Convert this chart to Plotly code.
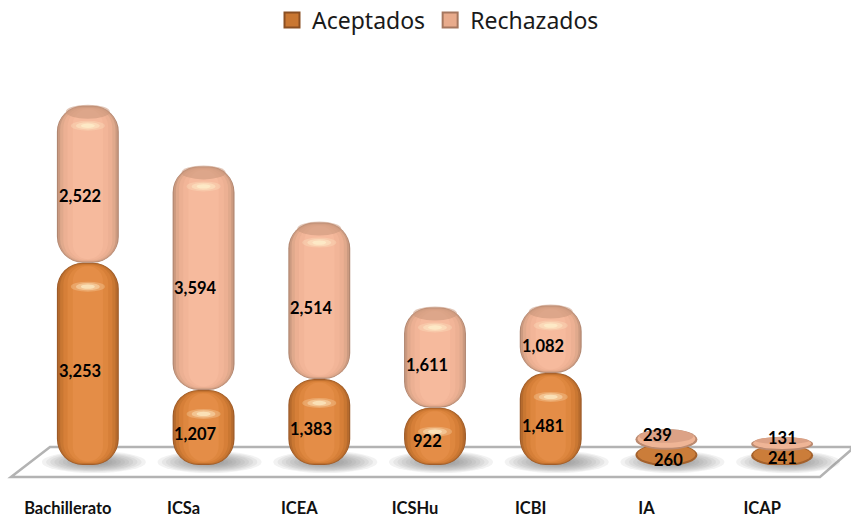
import plotly.graph_objects as go

categories = ["Bachillerato", "ICSa", "ICEA", "ICSHu", "ICBI", "IA", "ICAP"]
aceptados = [3253, 1207, 1383, 922, 1481, 260, 241]
rechazados = [2522, 3594, 2514, 1611, 1082, 239, 131]

# Plot-area geometry, in pixels of the 851x517 page
W, H = 851, 517
L, R, T, B = 30, 11, 0, 52
PH = H - T - B
PW = W - L - R
UNIT = 1 / 0.0622         # data units per pixel
YMAX = PH * UNIT
BAR = 0.535
STEP = PW / len(categories)
SMALL_PX = 40             # segments shorter than this are drawn as discs


def px(p):
    return (p - L) / PW


def py(p):
    return (H - B - p) / PH


acc_ramp = ["#9c5a28", "#b56a2d", "#c97732", "#d67f38", "#de873f", "#e48d47"]
rej_ramp = ["#b08670", "#cb9a80", "#e0a98c", "#ecb093", "#f2b598", "#f6ba9d"]

fig = go.Figure()

for name, vals, bases, ramp in [
    ("Aceptados", aceptados, [0] * len(aceptados), acc_ramp),
    ("Rechazados", rechazados, aceptados, rej_ramp),
]:
    for k, col in enumerate(ramp):
        inset = [min(k * 0.7 * UNIT, v * 0.04 * k) for v in vals]
        width = BAR * (1 - 0.0165 * k * k - 0.02 * k)
        widths = [width if v / UNIT > SMALL_PX else width * 0.6 for v in vals]
        fig.add_trace(go.Bar(
            x=categories,
            y=[v - 2 * d for v, d in zip(vals, inset)],
            base=[b + d for b, d in zip(bases, inset)],
            width=widths,
            showlegend=False,
            hoverinfo="skip",
            marker=dict(color=col, line_width=0, cornerradius=max(26 - 2 * k, 8)),
        ))

# Legend entries
for name, col, edge in [("Aceptados", "#c97732", "#8a4f22"), ("Rechazados", "#e8ab8c", "#a5775f")]:
    fig.add_trace(go.Scatter(
        x=[None], y=[None], mode="markers", name=name,
        marker=dict(symbol="square", size=15, color=col, line=dict(color=edge, width=2)),
    ))

shapes = [dict(
    type="path", xref="paper", yref="paper", layer="below",
    path=f"M {px(11)} {py(477)} L {px(50)} {py(447)} L {px(851)} {py(447)} "
         f"L {px(851)} {py(450)} L {px(820)} {py(477)} Z",
    fillcolor="white", line=dict(color="#b3b3b3", width=2.5),
)]

# Soft shadows on the floor, one stack of ellipses per bar
for i in range(len(categories)):
    for s in range(11):
        f = 1 - s * 0.08
        half_w, half_h = 52 * f, 11 * f
        cx = L + (i + 0.5) * STEP + 6
        cy = 462
        shapes.append(dict(
            type="circle", xref="paper", yref="paper", layer="below",
            x0=px(cx - half_w), x1=px(cx + half_w),
            y0=py(cy + half_h), y1=py(cy - half_h),
            fillcolor="#6a6a6a", opacity=0.09, line_width=0,
        ))


def disc(i, y0, y1, half_w, color, opacity=1.0):
    return dict(
        type="circle", xref="x", yref="y", layer="above",
        x0=i - half_w / STEP, x1=i + half_w / STEP, y0=y0, y1=y1,
        fillcolor=color, opacity=opacity, line_width=0,
    )


# Short segments: squat discs placed from the data
for vals, bases, edge, body, face in [
    (aceptados, [0] * len(aceptados), "#a3602b", "#cb7d3a", None),
    (rechazados, aceptados, "#bb8a70", "#efb596", "#d9a084"),
]:
    for i, (v, b) in enumerate(zip(vals, bases)):
        if v / UNIT > SMALL_PX:
            continue
        y0, y1 = b - 1 * UNIT, b + v + 5 * UNIT
        shapes.append(disc(i, y0, y1, 31, edge))
        shapes.append(disc(i, y0 + 2 * UNIT, y1 - 0.5 * UNIT, 29, body))
        if face:
            shapes.append(disc(i, y0 + 7 * UNIT, y1 - 0.5 * UNIT, 27, face, 0.9))

# Top caps and specular highlights, placed from the data
for tops, heights, is_top in [
    ([a + r for a, r in zip(aceptados, rechazados)], rechazados, True),
    (aceptados, aceptados, False),
]:
    for i, (top, h) in enumerate(zip(tops, heights)):
        if h / UNIT <= SMALL_PX:
            continue
        if is_top:
            shapes.append(disc(i, top - 13 * UNIT, top + 1 * UNIT, 22, "#c9957a", 0.55))
        off = 20 if is_top else 24
        for hw, hh, op in [(17, 5, 0.25), (12, 3.6, 0.4), (7, 2.2, 0.6)]:
            shapes.append(disc(i, top - (off + hh) * UNIT, top - (off - hh) * UNIT, hw, "#fff3cf", op))

# Data labels
label_shift = {
    ("IA", "Rechazados"): (-9, 6),
    ("IA", "Aceptados"): (2, -3),
    ("ICAP", "Rechazados"): (0, 8),
    ("ICAP", "Aceptados"): (0, 0),
    ("Bachillerato", "Rechazados"): (-8, -12),
    ("ICSa", "Rechazados"): (-8, -10),
    ("ICSHu", "Aceptados"): (-8, -5),
}
annotations = []
for name, vals, bases in [
    ("Aceptados", aceptados, [0] * len(aceptados)),
    ("Rechazados", rechazados, aceptados),
]:
    for c, v, b in zip(categories, vals, bases):
        xs, ys = label_shift.get((c, name), (-8, -7))
        annotations.append(dict(
            x=c, y=b + v / 2, text=f"{v:,}", showarrow=False,
            xshift=xs, yshift=ys,
            font=dict(family="Lato", size=16.5, color="black", weight="bold"),
        ))

fig.update_layout(
    width=W, height=H,
    margin=dict(l=L, r=R, t=T, b=B, autoexpand=False),
    paper_bgcolor="white", plot_bgcolor="rgba(0,0,0,0)",
    barmode="overlay",
    shapes=shapes,
    annotations=annotations,
    showlegend=True,
    legend=dict(
        orientation="h", x=px(438), xref="paper", xanchor="center",
        y=py(20), yanchor="middle", yref="paper",
        font=dict(family="Noto Sans", size=23, color="#1a1a1a"),
        traceorder="normal", bgcolor="rgba(0,0,0,0)",
    ),
    xaxis=dict(
        type="category", categoryorder="array", categoryarray=categories,
        range=[-0.5, len(categories) - 0.5], automargin=False,
        showgrid=False, showline=False, zeroline=False, ticks="",
        ticklabelstandoff=31, ticklabelshift=-20,
        tickfont=dict(family="Lato", size=16.5, color="#111111", weight="bold"),
    ),
    yaxis=dict(range=[0, YMAX], visible=False, showgrid=False, zeroline=False),
)

fig.write_html(
    "out.html",
    config=dict(displayModeBar=False),
    post_script="document.body.style.margin='0';",
)
